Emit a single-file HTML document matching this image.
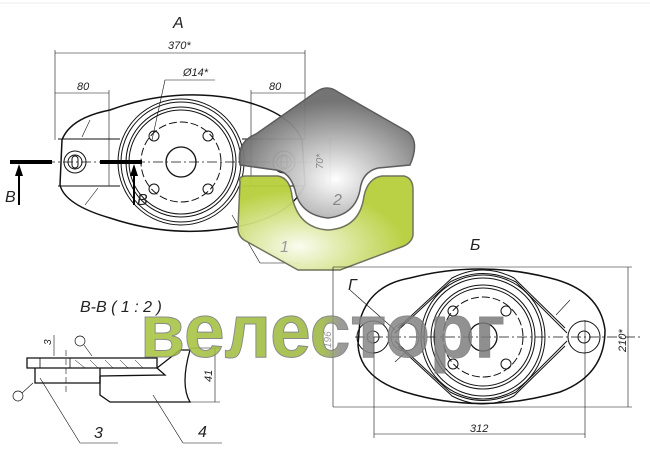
<!DOCTYPE html>
<html><head><meta charset="utf-8"><style>
html,body{margin:0;padding:0;background:#fff;width:650px;height:450px;overflow:hidden}
svg text{font-family:"Liberation Sans",sans-serif;font-style:italic;fill:#222}
</style></head><body>
<svg width="650" height="450" viewBox="0 0 650 450" xmlns="http://www.w3.org/2000/svg">
<defs>
<radialGradient id="gg" cx="0.55" cy="0.7" r="0.6"><stop offset="0" stop-color="#fff"/><stop offset="1" stop-color="#6d6d6d"/></radialGradient>
<radialGradient id="gr" cx="0.35" cy="0.75" r="0.6"><stop offset="0" stop-color="#fafcef"/><stop offset="1" stop-color="#b7cf3c"/></radialGradient>
<linearGradient id="tx" x1="0" x2="1" y1="0" y2="0"><stop offset="0" stop-color="#a6c43a"/><stop offset="0.5" stop-color="#9ab63a"/><stop offset="0.55" stop-color="#8a8a8a"/><stop offset="1" stop-color="#7a7a7a"/></linearGradient>
</defs>
<line x1="0" y1="3" x2="650" y2="3" stroke="#eee"/>
<g fill="none" stroke="#111" stroke-width="1">
<path d="M62,140 Q70,118 110,110 Q170,88 230,98 Q290,110 302,140 L305,185 Q290,218 230,228 Q170,238 110,218 Q65,205 60,185 Z" stroke-width="1.5"/>
<line x1="58" y1="139" x2="120" y2="139"/><line x1="58" y1="186" x2="120" y2="186"/>
<line x1="242" y1="139" x2="305" y2="139"/><line x1="242" y1="186" x2="305" y2="186"/>
<circle cx="181" cy="162" r="63"/><circle cx="181" cy="162" r="60"/><circle cx="181" cy="162" r="55"/><circle cx="181" cy="162" r="52"/>
<circle cx="181" cy="162" r="40" stroke-dasharray="8,3"/>
<circle cx="181" cy="162" r="15" stroke-width="1.3"/>
<circle cx="154" cy="136" r="5"/><circle cx="208" cy="136" r="5"/><circle cx="154" cy="189" r="5"/><circle cx="208" cy="189" r="5"/>
<circle cx="75" cy="162" r="11"/><circle cx="75" cy="162" r="7"/><rect x="72" y="156" width="6" height="12" rx="3"/>
<circle cx="284" cy="162" r="11"/><circle cx="284" cy="162" r="7"/><rect x="281" y="156" width="6" height="12" rx="3"/>
<line x1="45" y1="162" x2="320" y2="162" stroke-dasharray="10,3,2,3" stroke-width="0.7"/>
<line x1="55" y1="50" x2="55" y2="140" stroke-width="0.6"/><line x1="305" y1="50" x2="305" y2="140" stroke-width="0.6"/>
<line x1="109" y1="90" x2="109" y2="186" stroke-width="0.6"/><line x1="251" y1="90" x2="251" y2="186" stroke-width="0.6"/>
<line x1="55" y1="53" x2="305" y2="53" stroke-width="0.6"/>
<line x1="55" y1="93" x2="109" y2="93" stroke-width="0.6"/><line x1="251" y1="93" x2="305" y2="93" stroke-width="0.6"/>
<line x1="165" y1="80" x2="215" y2="80" stroke-width="0.6"/><line x1="165" y1="80" x2="152" y2="140" stroke-width="0.6"/>
<line x1="330" y1="139" x2="330" y2="186" stroke-width="0.6"/>
<line x1="90" y1="120" x2="82" y2="137" stroke-width="0.6"/><line x1="85" y1="205" x2="98" y2="188" stroke-width="0.6"/>
<line x1="232" y1="215" x2="260" y2="263" stroke-width="0.6"/><line x1="260" y1="263" x2="300" y2="263" stroke-width="0.6"/>
</g>
<line x1="10" y1="162" x2="52" y2="162" stroke="#000" stroke-width="4"/>
<line x1="100" y1="162" x2="142" y2="162" stroke="#000" stroke-width="4"/>
<line x1="19" y1="205" x2="19" y2="172" stroke="#000" stroke-width="2"/><path d="M15,176 L19,164 L23,176Z"/>
<line x1="134" y1="205" x2="134" y2="172" stroke="#000" stroke-width="2"/><path d="M130,176 L134,164 L138,176Z"/>
<text x="5" y="202" font-size="16">В</text><text x="137" y="205" font-size="16">В</text>
<text x="173" y="28" font-size="16">А</text>
<text x="168" y="49" font-size="11">370*</text>
<text x="77" y="90" font-size="11">80</text><text x="269" y="90" font-size="11">80</text>
<text x="183" y="76" font-size="11">Ø14*</text>
<path d="M240,165 Q236,142 256,134 L316,92 Q327,84 338,92 L408,132 Q420,142 410,165 L378,168 Q362,172 360,190 Q355,215 328,218 Q300,215 295,190 Q290,172 276,170 Z" fill="url(#gg)" stroke="#555" stroke-width="1.5" opacity="0.95"/>
<path d="M240,182 Q238,176 246,176 L278,176 Q290,178 292,196 Q298,228 328,230 Q360,228 364,196 Q368,178 382,176 L404,176 Q413,178 413,190 L413,235 Q412,242 404,246 L340,270 L298,270 L244,240 Q238,236 238,228 Z" fill="url(#gr)" stroke="#6b6b55" stroke-width="1.5" opacity="0.95"/>
<text x="333" y="205" font-size="16" style="fill:#888">2</text>
<text x="280" y="252" font-size="16" style="fill:#999">1</text>
<text x="314" y="170" font-size="10" style="fill:#888" transform="rotate(-90 318 165)">70*</text>
<g fill="none" stroke="#111" stroke-width="1">
<path d="M360,320 Q370,285 410,278 Q480,260 550,278 Q600,290 605,330 Q605,375 560,392 Q480,415 405,392 Q360,378 358,345 Z" stroke-width="1.5"/>
<circle cx="483" cy="337" r="62"/><circle cx="483" cy="337" r="59"/><circle cx="483" cy="337" r="52"/><circle cx="483" cy="337" r="49"/>
<circle cx="483" cy="337" r="40" stroke-dasharray="8,3"/>
<circle cx="483" cy="337" r="14" stroke-width="1.3"/>
<circle cx="453" cy="311" r="5"/><circle cx="506" cy="311" r="5"/><circle cx="453" cy="364" r="5"/><circle cx="506" cy="364" r="5"/>
<circle cx="584" cy="337" r="16"/><circle cx="584" cy="337" r="6"/>
<circle cx="373" cy="337" r="16"/><circle cx="373" cy="337" r="6"/>
<circle cx="405" cy="337" r="14" stroke-width="0.6"/>
<path d="M395,333 L450,282 Q483,265 516,282 L567,333 M395,341 L450,392 Q483,409 516,392 L567,341"/>
<path d="M398,328 L452,278 Q483,262 514,278 L565,328 M398,346 L452,396 Q483,412 514,396 L565,346"/>
<line x1="355" y1="337" x2="640" y2="337" stroke-dasharray="10,3,2,3" stroke-width="0.7"/>
<line x1="333" y1="267" x2="333" y2="407" stroke-width="0.6"/>
<line x1="333" y1="267" x2="632" y2="267" stroke-width="0.6"/><line x1="333" y1="407" x2="632" y2="407" stroke-width="0.6"/>
<line x1="628" y1="267" x2="628" y2="407" stroke-width="0.6"/>
<line x1="374" y1="337" x2="374" y2="438" stroke-width="0.6"/><line x1="585" y1="320" x2="585" y2="438" stroke-width="0.6"/>
<line x1="374" y1="434" x2="585" y2="434" stroke-width="0.6"/>
<line x1="350" y1="290" x2="395" y2="330" stroke-width="0.6"/>
<line x1="570" y1="300" x2="556" y2="315" stroke-width="0.6"/><line x1="395" y1="362" x2="408" y2="350" stroke-width="0.6"/>
</g>
<text x="470" y="250" font-size="16">Б</text>
<text x="348" y="290" font-size="16">Г</text>
<text x="470" y="432" font-size="11">312</text>
<text x="0" y="0" font-size="11" transform="translate(626,352) rotate(-90)">210*</text>
<text x="0" y="0" font-size="10" transform="translate(331,348) rotate(-90)" style="fill:#999">196</text>
<text x="80" y="312" font-size="16">В-В ( 1 : 2 )</text>
<g fill="none" stroke="#111" stroke-width="1.3">
<path d="M27,358 L157,358 L157,368 L27,368 Z"/>
<path d="M35,368 L35,383 L100,383 L100,368"/>
<path d="M100,376 L100,395 L110,402 L190,402 Q180,385 190,350 L180,350 L157,368"/>
<path d="M157,368 L165,375 L100,376"/>
<path d="M40,368 L40,358 M70,358 L70,368" stroke-width="0.8"/>
<line x1="66" y1="350" x2="66" y2="395" stroke-dasharray="6,3" stroke-width="0.6"/>
<line x1="190" y1="348" x2="220" y2="348" stroke-width="0.6"/><line x1="190" y1="402" x2="220" y2="402" stroke-width="0.6"/>
<line x1="215" y1="348" x2="215" y2="402" stroke-width="0.6"/>
<line x1="54" y1="335" x2="54" y2="356" stroke-width="0.6"/>
<line x1="40" y1="378" x2="80" y2="443" stroke-width="0.6"/><line x1="80" y1="443" x2="118" y2="443" stroke-width="0.6"/>
<line x1="153" y1="395" x2="183" y2="443" stroke-width="0.6"/><line x1="183" y1="443" x2="222" y2="443" stroke-width="0.6"/>
<circle cx="18" cy="396" r="5" stroke-width="0.7"/><line x1="22" y1="393" x2="33" y2="383" stroke-width="0.6"/>
<circle cx="80" cy="341" r="5" stroke-width="0.7"/><line x1="84" y1="345" x2="92" y2="356" stroke-width="0.6"/>
<path d="M75,360 L85,368 M90,360 L98,368 M105,360 L113,368 M120,360 L128,368 M135,360 L143,368" stroke-width="0.5"/>
</g>
<text x="45" y="345" font-size="10" transform="rotate(-90 48 342)">3</text>
<text x="0" y="0" font-size="11" transform="translate(212,382) rotate(-90)">41</text>
<text x="94" y="438" font-size="16">3</text>
<text x="198" y="437" font-size="16">4</text>
<text x="140" y="357" font-size="76" font-weight="bold" textLength="365" lengthAdjust="spacingAndGlyphs" style="font-style:normal;fill:url(#tx);stroke:#777;stroke-width:1;opacity:0.85">велесторг</text>
</svg>
</body></html>
